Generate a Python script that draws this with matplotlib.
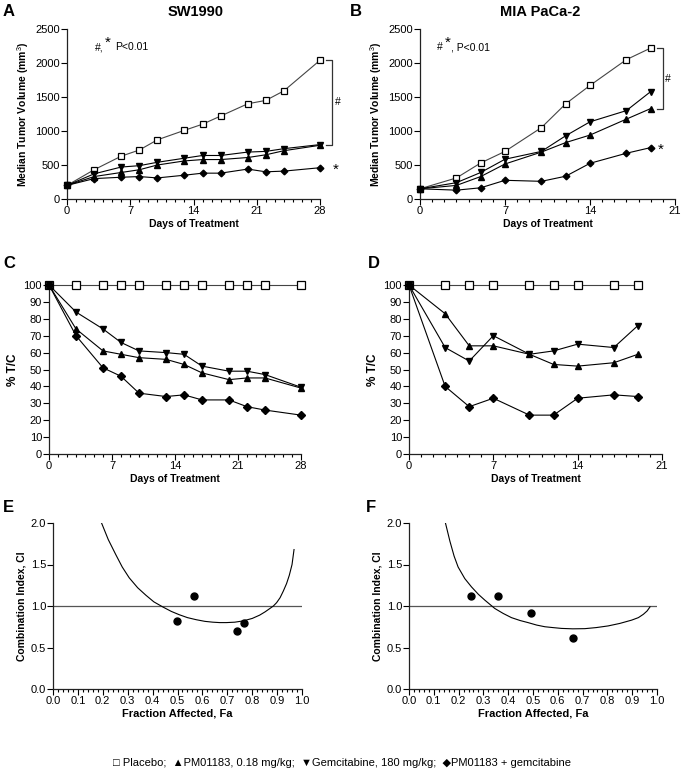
import matplotlib
matplotlib.use("Agg")
import matplotlib.pyplot as plt
from matplotlib.ticker import MultipleLocator, FormatStrFormatter

plt.rcParams['font.family'] = ['Liberation Sans', 'DejaVu Sans']
plt.rcParams['mathtext.fontset'] = 'custom'
plt.rcParams['mathtext.rm'] = 'Liberation Sans'

# SW1990 (panels A, C)
days_sw = [0, 3, 6, 8, 10, 13, 15, 17, 20, 22, 24, 28]
vol_sw_placebo = [200, 430, 630, 720, 870, 1010, 1100, 1220, 1400, 1450, 1590, 2040]
vol_sw_pm = [200, 330, 390, 430, 500, 560, 580, 580, 610, 650, 710, 790]
vol_sw_gem = [200, 370, 470, 490, 540, 600, 640, 640, 690, 700, 740, 800]
vol_sw_combo = [200, 300, 320, 330, 310, 350, 380, 380, 440, 400, 410, 460]

tc_sw_placebo = [100] * 12
tc_sw_pm = [100, 74, 61, 59, 57, 56, 53, 48, 44, 45, 45, 39]
tc_sw_gem = [100, 84, 74, 66, 61, 60, 59, 52, 49, 49, 47, 39.5]
tc_sw_combo = [100, 70, 51, 46, 36, 34, 35, 32, 32, 28, 26, 23]

# MIA PaCa-2 (panels B, D)
days_mia = [0, 3, 5, 7, 10, 12, 14, 17, 19]
vol_mia_placebo = [150, 310, 530, 700, 1050, 1400, 1670, 2050, 2220]
vol_mia_pm = [150, 200, 330, 515, 690, 830, 940, 1175, 1330]
vol_mia_gem = [150, 240, 390, 585, 700, 930, 1135, 1300, 1580]
vol_mia_combo = [150, 130, 165, 275, 260, 335, 525, 673, 756]

tc_mia_placebo = [100] * 9
tc_mia_pm = [100, 83, 64, 64, 59, 53, 52, 54, 59]
tc_mia_gem = [100, 63, 55, 70, 59, 61, 65, 63, 76]
tc_mia_combo = [100, 40, 28, 33, 23, 23, 33, 35, 34]

# Combination index (panels E, F)
fa_e_curve = [0.195, 0.222, 0.252, 0.278, 0.306, 0.34, 0.373, 0.405, 0.44, 0.475, 0.507, 0.54,
              0.575, 0.61, 0.642, 0.67, 0.696, 0.73, 0.763, 0.8, 0.83, 0.852, 0.871, 0.885,
              0.898, 0.912, 0.925, 0.938, 0.949, 0.96, 0.968]
ci_e_curve = [2.0, 1.8, 1.62, 1.47, 1.34, 1.22, 1.13, 1.05, 0.99, 0.935, 0.895, 0.86,
              0.835, 0.815, 0.805, 0.80, 0.80, 0.805, 0.82, 0.85, 0.89, 0.93, 0.97, 1.0,
              1.04, 1.1, 1.18, 1.27, 1.37, 1.5, 1.68]
fa_e_pts = [0.498, 0.568, 0.738, 0.768]
ci_e_pts = [0.82, 1.12, 0.70, 0.80]

fa_f_curve = [0.147, 0.165, 0.182, 0.198, 0.225, 0.252, 0.28, 0.306, 0.346, 0.38, 0.413, 0.448,
              0.48, 0.515, 0.548, 0.58, 0.615, 0.66, 0.709, 0.755, 0.803, 0.85, 0.898, 0.925,
              0.945, 0.96, 0.972]
ci_f_curve = [2.0, 1.78, 1.6, 1.47, 1.33, 1.23, 1.14, 1.07, 0.97, 0.91, 0.86, 0.825,
              0.80, 0.77, 0.75, 0.74, 0.73, 0.725, 0.727, 0.74, 0.76, 0.79, 0.83, 0.86,
              0.9, 0.94, 0.99]
fa_f_pts = [0.25, 0.36, 0.49, 0.66]
ci_f_pts = [1.12, 1.12, 0.91, 0.62]

W, H = 681, 776
fig = plt.figure(figsize=(W / 100, H / 100), dpi=100)


def box(l, t, r, b):
    # pixel box -> figure fraction
    return [l / W, 1 - b / H, (r - l) / W, (b - t) / H]


def style(ax):
    for s in ['top', 'right']:
        ax.spines[s].set_visible(False)
    for s in ['left', 'bottom']:
        ax.spines[s].set_linewidth(0.9)
        ax.spines[s].set_color('#222222')
    ax.tick_params(which='major', length=4, width=0.8, direction='out', pad=1)
    ax.tick_params(which='minor', length=2.5, width=0.8, direction='out')


def series(ax, x, ys, ms):
    pl, pm, gem, combo = ys
    ax.plot(x, pl, color='#444444', lw=0.8, marker='s', ms=ms + 0.5, mfc='white',
            mec='black', mew=0.9, zorder=3, clip_on=False)
    ax.plot(x, pm, color='black', lw=0.8, marker='^', ms=ms, mfc='black', mec='black', zorder=4, clip_on=False)
    ax.plot(x, gem, color='black', lw=0.8, marker='v', ms=ms, mfc='black', mec='black', zorder=4, clip_on=False)
    ax.plot(x, combo, color='black', lw=0.8, marker='D', ms=ms - 0.6, mfc='black', mec='black', zorder=5, clip_on=False)


# A
axA = fig.add_axes(box(67, 29, 320, 199))
series(axA, days_sw, [vol_sw_placebo, vol_sw_pm, vol_sw_gem, vol_sw_combo], 4)
axA.set_xlim(0, 28)
axA.set_ylim(0, 2500)
axA.xaxis.set_major_locator(MultipleLocator(7))
axA.xaxis.set_minor_locator(MultipleLocator(1))
axA.yaxis.set_major_locator(MultipleLocator(500))
axA.set_ylabel('Median Tumor Volume (mm$^3$)', fontsize=7.5, fontweight='bold', labelpad=3)
axA.set_xlabel('Days of Treatment', fontsize=7.5, fontweight='bold', labelpad=2)
axA.text(3.1, 2230, '#,', fontsize=7.5, va='center')
axA.text(4.2, 2290, '*', fontsize=11, va='center')
axA.text(5.3, 2230, 'P<0.01', fontsize=7.5, va='center')
axA.plot([28.7, 29.3, 29.3, 28.7], [2040, 2040, 800, 800], color='#333333', lw=0.9, clip_on=False)
axA.text(29.6, 1420, '#', fontsize=7.5, va='center', clip_on=False)
axA.text(29.4, 430, '*', fontsize=11, va='center', clip_on=False)
style(axA)

# B
axB = fig.add_axes(box(420, 29, 675, 199))
series(axB, days_mia, [vol_mia_placebo, vol_mia_pm, vol_mia_gem, vol_mia_combo], 4)
axB.set_xlim(0, 21)
axB.set_ylim(0, 2500)
axB.xaxis.set_major_locator(MultipleLocator(7))
axB.xaxis.set_minor_locator(MultipleLocator(1))
axB.yaxis.set_major_locator(MultipleLocator(500))
axB.set_ylabel('Median Tumor Volume (mm$^3$)', fontsize=7.5, fontweight='bold', labelpad=3)
axB.set_xlabel('Days of Treatment', fontsize=7.5, fontweight='bold', labelpad=2)
axB.text(1.4, 2230, '#', fontsize=7.5, va='center')
axB.text(2.0, 2290, '*', fontsize=11, va='center')
axB.text(2.55, 2230, ', P<0.01', fontsize=7.5, va='center')
axB.plot([19.5, 20.0, 20.0, 19.5], [2220, 2220, 1320, 1320], color='#333333', lw=0.9, clip_on=False)
axB.text(20.2, 1770, '#', fontsize=7.5, va='center', clip_on=False)
axB.text(19.6, 720, '*', fontsize=11, va='center', clip_on=False)
style(axB)

# C
axC = fig.add_axes(box(49, 285, 301, 454))
series(axC, days_sw, [tc_sw_placebo, tc_sw_pm, tc_sw_gem, tc_sw_combo], 5)
axC.set_xlim(0, 28)
axC.set_ylim(0, 100)
axC.xaxis.set_major_locator(MultipleLocator(7))
axC.xaxis.set_minor_locator(MultipleLocator(1))
axC.yaxis.set_major_locator(MultipleLocator(10))
axC.set_ylabel('% T/C', fontsize=8.5, fontweight='bold', labelpad=3)
axC.set_xlabel('Days of Treatment', fontsize=7.5, fontweight='bold', labelpad=2)
style(axC)

# D
axD = fig.add_axes(box(409, 285, 662, 454))
series(axD, days_mia, [tc_mia_placebo, tc_mia_pm, tc_mia_gem, tc_mia_combo], 5)
axD.set_xlim(0, 21)
axD.set_ylim(0, 100)
axD.xaxis.set_major_locator(MultipleLocator(7))
axD.xaxis.set_minor_locator(MultipleLocator(1))
axD.yaxis.set_major_locator(MultipleLocator(10))
axD.set_ylabel('% T/C', fontsize=8.5, fontweight='bold', labelpad=3)
axD.set_xlabel('Days of Treatment', fontsize=7.5, fontweight='bold', labelpad=2)
style(axD)

for ax in (axA, axB, axC, axD):
    ax.tick_params(labelsize=8)

# E, F
for rect, fc, cc, fp, cp in [((53, 523, 302, 689), fa_e_curve, ci_e_curve, fa_e_pts, ci_e_pts),
                             ((409, 523, 657, 689), fa_f_curve, ci_f_curve, fa_f_pts, ci_f_pts)]:
    ax = fig.add_axes(box(*rect))
    ax.axhline(1.0, color='#555555', lw=0.9)
    ax.plot(fc, cc, color='black', lw=0.8)
    ax.plot(fp, cp, 'o', color='black', ms=5, zorder=4)
    ax.set_xlim(0, 1.0)
    ax.set_ylim(0, 2.0)
    ax.xaxis.set_major_locator(MultipleLocator(0.1))
    ax.xaxis.set_minor_locator(MultipleLocator(0.02))
    ax.yaxis.set_major_locator(MultipleLocator(0.5))
    ax.xaxis.set_major_formatter(FormatStrFormatter('%.1f'))
    ax.yaxis.set_major_formatter(FormatStrFormatter('%.1f'))
    ax.set_ylabel('Combination Index, CI', fontsize=7.5, fontweight='bold', labelpad=3)
    ax.set_xlabel('Fraction Affected, Fa', fontsize=8, fontweight='bold', labelpad=2)
    ax.tick_params(labelsize=8)
    style(ax)

# titles and panel letters
fig.text(196 / W, 1 - 12 / H, 'SW1990', fontsize=10.5, fontweight='bold', ha='center', va='center')
fig.text(540 / W, 1 - 12 / H, 'MIA PaCa-2', fontsize=10.5, fontweight='bold', ha='center', va='center')
for lab, x, y in [('A', 3, 12), ('B', 350, 12), ('C', 3, 263), ('D', 368, 263), ('E', 3, 508), ('F', 366, 507)]:
    fig.text(x / W, 1 - y / H, lab, fontsize=12, fontweight='bold', ha='left', va='center')

fig.text(342 / W, 1 - 763 / H,
         '\u25a1 Placebo;  \u25b2PM01183, 0.18 mg/kg;  \u25bcGemcitabine, 180 mg/kg;  \u25c6PM01183 + gemcitabine',
         fontsize=8, ha='center', va='center')

fig.savefig('out.png', dpi=100)
